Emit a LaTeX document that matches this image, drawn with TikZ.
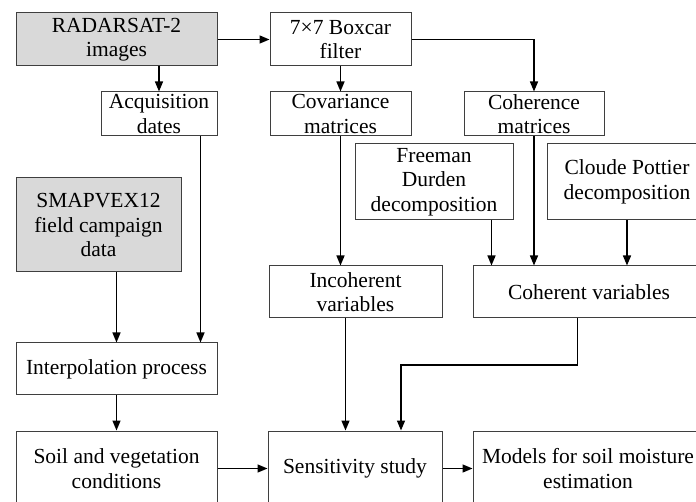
\documentclass[tikz,border=0pt]{standalone}
\usepackage{fontspec}
\setmainfont{Liberation Serif}
\usetikzlibrary{arrows.meta,calc}
\definecolor{boxline}{HTML}{3F3F3F}
\definecolor{boxgray}{HTML}{D9D9D9}
\tikzset{
  blk/.style={draw=boxline, line width=1pt, fill=white, inner sep=0pt, align=center,
    font=\fontsize{21.5}{24.5}\selectfont},
  grayblk/.style={blk, fill=boxgray},
  arr/.style={draw=black, line width=1.4pt, -{Triangle[length=10pt,width=8pt]}}
}
\newcommand{\bx}[7]{% style, name, x1, y1, x2, y2, text
  \node[#1, minimum width={#5-#3}, minimum height={#6-#4}] (#2) at ({(#3+#5)/2},{(#4+#6)/2}) {#7};}
\begin{document}
\begin{tikzpicture}[x=1pt,y=-1pt]
\clip (0,0) rectangle (696,502);
\fill[white] (0,0) rectangle (696,502);
\bx{grayblk}{rad}{16}{13}{217}{66}{RADARSAT-2\\images}
\bx{blk}{box}{270}{13}{411}{66}{7×7 Boxcar\\filter}
\bx{blk}{acq}{101}{92}{217}{136}{Acquisition\\dates}
\bx{blk}{cov}{270}{92}{411}{136}{Covariance\\matrices}
\bx{blk}{coh}{464}{92}{604}{136}{Coherence\\matrices}
\bx{blk}{fd}{355}{144}{513}{220}{Freeman\\Durden\\decomposition}
\bx{blk}{cp}{547}{144}{707}{220}{Cloude Pottier\\decomposition}
\bx{grayblk}{sm}{16}{178}{181}{272}{SMAPVEX12\\field campaign\\data}
\bx{blk}{inc}{269}{266}{442}{318}{Incoherent\\variables}
\bx{blk}{cv}{473}{266}{705}{318}{Coherent variables}
\bx{blk}{ip}{16}{343}{217}{395}{Interpolation process}
\bx{blk}{soil}{16}{431}{217}{506}{Soil and vegetation\\conditions}
\bx{blk}{sens}{268}{431}{442}{506}{Sensitivity study}
\bx{blk}{mod}{473}{431}{703}{506}{Models for soil moisture\\estimation}

\draw[arr] (rad.east) -- (box.west);
\draw[arr] (rad.south -| acq.north) -- (acq.north);
\draw[arr] (box.south) -- (box.south |- cov.north);
\draw[arr] (box.east) -| (coh.north);
\coordinate (aq) at ([xshift=-17pt]acq.south east);
\draw[arr] (aq) -- (aq |- ip.north);
\draw[arr] (sm.south -| ip.north) -- (ip.north);
\draw[arr] (cov.south) -- (cov.south |- inc.north);
\coordinate (ic) at ([xshift=-10pt]inc.south);
\draw[arr] (ic) -- (ic |- sens.north);
\coordinate (fo) at ([xshift=-22pt]fd.south east);
\draw[arr] (fo) -- (fo |- cv.north);
\draw[arr] (coh.south) -- (coh.south |- cv.north);
\draw[arr] (cp.south) -- (cp.south |- cv.north);
\coordinate (co) at ([xshift=105pt]cv.south west);
\coordinate (bend) at (401,365);
\draw[arr] (co) |- (bend) -- (bend |- sens.north);
\draw[arr] (ip.south) -- (ip.south |- soil.north);
\draw[arr] (soil.east) -- (sens.west);
\draw[arr] (sens.east) -- (mod.west);
\end{tikzpicture}
\end{document}
